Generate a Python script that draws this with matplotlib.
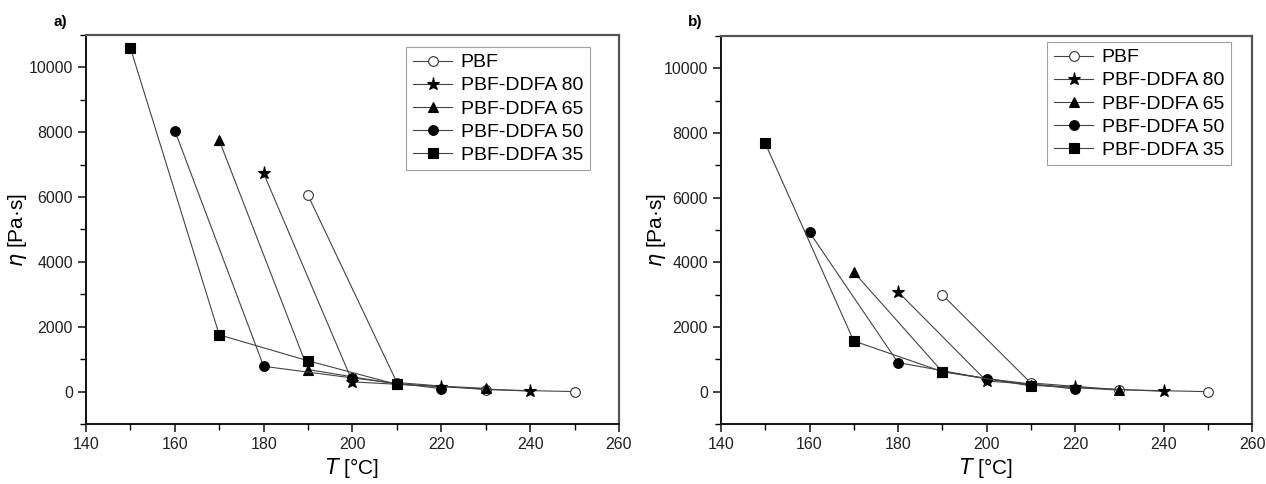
import numpy as np
import matplotlib
matplotlib.use('Agg')
import matplotlib.pyplot as plt
from matplotlib.ticker import MultipleLocator

plt.rcParams['font.family'] = ['Liberation Sans', 'DejaVu Sans']

labels = ["PBF", "PBF-DDFA 80", "PBF-DDFA 65", "PBF-DDFA 50", "PBF-DDFA 35"]
markers = ["o", "*", "^", "o", "s"]
filled = [False, True, True, True, True]

# temperatures per series
T_pbf = [190, 210, 230, 250]
T_80 = [180, 200, 220, 240]
T_65 = [170, 190, 210, 230]
T_50 = [160, 180, 200, 220]
T_35 = [150, 170, 190, 210]
temps = [T_pbf, T_80, T_65, T_50, T_35]

# panel a) viscosities
eta_a_pbf = [6050, 280, 60, 0]
eta_a_80 = [6730, 300, 150, 10]
eta_a_65 = [7750, 680, 230, 100]
eta_a_50 = [8050, 780, 420, 90]
eta_a_35 = [10600, 1750, 950, 220]

# panel b) viscosities
eta_b_pbf = [3000, 270, 60, 0]
eta_b_80 = [3090, 330, 130, 10]
eta_b_65 = [3700, 620, 200, 50]
eta_b_50 = [4930, 900, 400, 80]
eta_b_35 = [7680, 1570, 620, 180]

panels = [
    ("a)", [eta_a_pbf, eta_a_80, eta_a_65, eta_a_50, eta_a_35]),
    ("b)", [eta_b_pbf, eta_b_80, eta_b_65, eta_b_50, eta_b_35]),
]

fig = plt.figure(figsize=(12.66, 4.84), dpi=100)
W, H = 1266, 484
boxes = [(86, 35, 619, 424), (721, 36, 1252, 424)]
legend_pos = [(590, 47), (1231, 42)]
ylabel_x = [29, 668]

for (tag, series), (x0, y0, x1, y1), (lx, ly), yl in zip(panels, boxes, legend_pos, ylabel_x):
    ax = fig.add_axes([x0 / W, 1 - y1 / H, (x1 - x0) / W, (y1 - y0) / H])
    for T, eta, lab, m, f in zip(temps, series, labels, markers, filled):
        ms = {"*": 9.5, "o": 7, "^": 7, "s": 6.5}[m]
        ax.plot(T, eta, color="#444444", lw=0.8, marker=m, markersize=ms,
                markerfacecolor="black" if f else "white",
                markeredgecolor="black" if f else "#333333",
                markeredgewidth=0.8, label=lab)
    ax.set_xlim(140, 260)
    ax.set_ylim(-1000, 11000)
    ax.set_xticks(np.arange(140, 261, 20))
    ax.set_yticks(np.arange(0, 10001, 2000))
    ax.xaxis.set_minor_locator(MultipleLocator(10))
    ax.yaxis.set_minor_locator(MultipleLocator(1000))
    ax.tick_params(which="major", direction="out", length=6, width=1.2,
                   labelsize=11.5, colors="#222222")
    ax.tick_params(which="minor", direction="out", length=4, width=1.0)
    for s in ["left", "bottom"]:
        ax.spines[s].set_linewidth(1.4)
        ax.spines[s].set_color("#111111")
    for s in ["top", "right"]:
        ax.spines[s].set_linewidth(1.6)
        ax.spines[s].set_color("#555555")
    ax.set_xlabel(r"$T$ [°C]", fontsize=15, labelpad=3)
    ax.set_ylabel(r"$\eta$ [Pa·s]", fontsize=15)
    ax.yaxis.set_label_coords((yl - x0) / (x1 - x0), 0.5)
    leg = ax.legend(loc="upper right", bbox_to_anchor=(lx / W, 1 - ly / H),
                    bbox_transform=fig.transFigure, fontsize=14, frameon=True,
                    fancybox=False, edgecolor="#888888", handlelength=2.0,
                    handletextpad=0.45, borderpad=0.35, labelspacing=0.28,
                    borderaxespad=0)
    leg.get_frame().set_linewidth(0.8)
    fig.text((x0 - 33) / W, 1 - 22 / H, tag, fontsize=11, fontweight="bold",
             ha="left", va="center")

fig.savefig("out.png", dpi=100)
